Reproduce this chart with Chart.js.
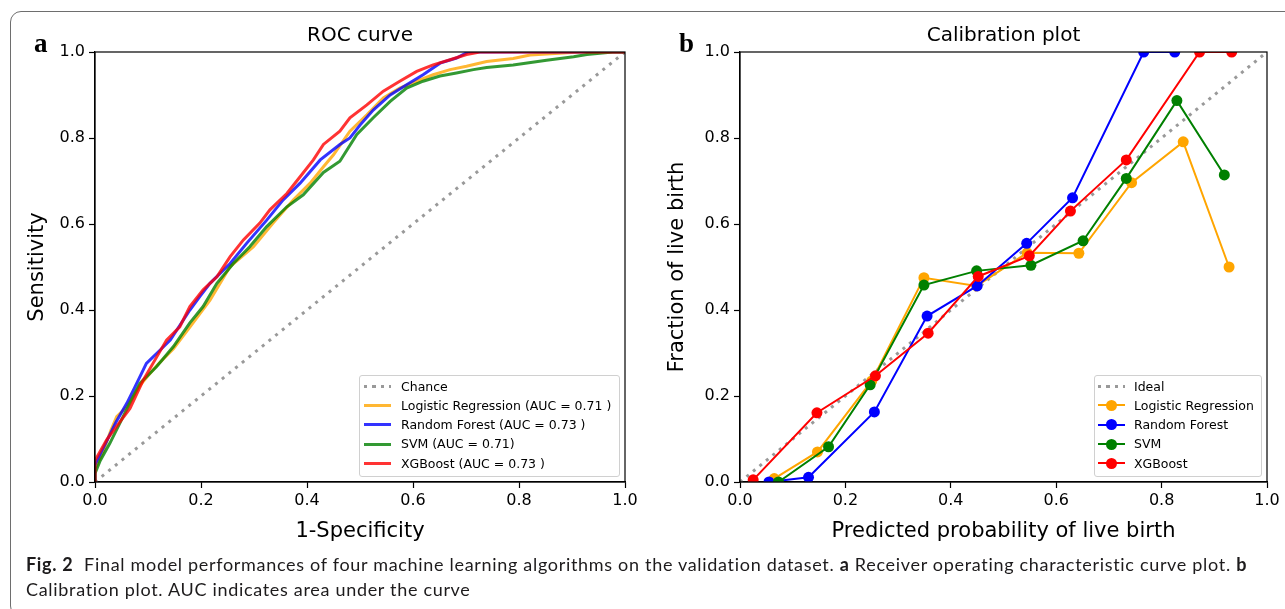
<!DOCTYPE html>
<html lang="en">
<head>
<meta charset="UTF-8">
<title>Fig. 2</title>
<script src="https://cdn.jsdelivr.net/npm/chart.js"></script>
<style>
  body{margin:0; width:1285px; height:609px; overflow:hidden; background:#fff; position:relative; font-family:'DejaVu Sans';}
  #frame{position:absolute; left:10px; top:11px; width:1300px; height:604px; border:1.3px solid #6e6e6e; border-radius:11px;}
  #rocBox{position:absolute; left:0; top:0; width:650px; height:560px;}
  #calBox{position:absolute; left:640px; top:0; width:645px; height:560px;}
  .panel{position:absolute; top:30px; font-family:'Liberation Serif'; font-weight:bold; font-size:27px; line-height:27px;}
  .legend{position:absolute; top:375px; height:97px; padding:0.5px 0 2px 0; border:1px solid #d0d0d0; border-radius:3px; background:rgba(255,255,255,0.8); font-size:12.5px; color:#000;}
  .legend .row{height:19.3px; line-height:19.3px; white-space:nowrap; display:flex; align-items:center;}
  .legend .smp{position:relative; width:27px; height:11px; flex:none;}
  #caption{position:absolute; left:26px; top:551.5px; font-family:Lato; font-size:18px; line-height:25px; color:#1d1b1c; white-space:nowrap;}
</style>
</head>
<body>
<div id="frame"></div>
<div id="rocBox"><canvas id="rocChart"></canvas></div>
<div id="calBox"><canvas id="calChart"></canvas></div>
<div class="panel" style="left:34px;">a</div>
<div class="panel" style="left:679px;">b</div>
<div class="legend" id="rocLegend" style="left:359px; width:259px;"></div>
<div class="legend" id="calLegend" style="left:1094px; width:166px;"></div>
<div id="caption"><span id="cap1"><b>Fig. 2</b>&nbsp; Final model performances of four machine learning algorithms on the validation dataset. <b>a</b> Receiver operating characteristic curve plot. <b>b</b></span><br>Calibration plot. AUC indicates area under the curve</div>
<script>
  const tickValues = [0, 0.2, 0.4, 0.6, 0.8, 1.0];
  const tickLabels = ['0.0', '0.2', '0.4', '0.6', '0.8', '1.0'];

  // ROC curves (1-specificity, sensitivity)
  const chanceX = [0, 1];
  const chanceY = [0, 1];
  const lrFpr = [0, 0, 0.015, 0.03, 0.041, 0.06, 0.085, 0.116, 0.148, 0.179, 0.217, 0.255, 0.299, 0.336, 0.374, 0.406, 0.431, 0.45, 0.481, 0.513, 0.544, 0.575, 0.607, 0.638, 0.67, 0.701, 0.739, 0.789, 0.821, 0.915, 1];
  const lrTpr = [0, 0.03, 0.07, 0.12, 0.152, 0.175, 0.225, 0.27, 0.31, 0.36, 0.423, 0.501, 0.547, 0.602, 0.656, 0.695, 0.733, 0.761, 0.816, 0.854, 0.893, 0.916, 0.932, 0.947, 0.959, 0.967, 0.978, 0.985, 0.993, 1.0, 1];
  const rfFpr = [0, 0, 0.02, 0.04, 0.06, 0.075, 0.097, 0.123, 0.142, 0.179, 0.198, 0.217, 0.255, 0.286, 0.324, 0.355, 0.387, 0.425, 0.462, 0.481, 0.5, 0.525, 0.557, 0.588, 0.619, 0.651, 0.682, 0.704, 1];
  const rfTpr = [0, 0.04, 0.09, 0.14, 0.183, 0.22, 0.276, 0.307, 0.33, 0.4, 0.432, 0.462, 0.508, 0.555, 0.609, 0.656, 0.695, 0.749, 0.785, 0.8, 0.83, 0.865, 0.9, 0.924, 0.947, 0.974, 0.986, 1.0, 1];
  const svmFpr = [0, 0, 0.01, 0.028, 0.053, 0.085, 0.116, 0.148, 0.179, 0.204, 0.23, 0.261, 0.292, 0.324, 0.362, 0.393, 0.431, 0.462, 0.494, 0.525, 0.557, 0.588, 0.619, 0.651, 0.682, 0.714, 0.739, 0.789, 0.852, 0.903, 0.928, 0.977, 1];
  const svmTpr = [0, 0.02, 0.05, 0.09, 0.152, 0.23, 0.268, 0.315, 0.37, 0.408, 0.462, 0.508, 0.547, 0.594, 0.64, 0.668, 0.72, 0.746, 0.808, 0.847, 0.885, 0.916, 0.932, 0.944, 0.951, 0.959, 0.964, 0.97, 0.981, 0.989, 0.994, 1.0, 1];
  const xgbFpr = [0, 0, 0.022, 0.047, 0.066, 0.091, 0.135, 0.16, 0.179, 0.204, 0.23, 0.255, 0.28, 0.311, 0.33, 0.362, 0.387, 0.412, 0.431, 0.462, 0.481, 0.513, 0.544, 0.575, 0.607, 0.638, 0.67, 0.701, 0.726, 1];
  const xgbTpr = [0, 0.05, 0.098, 0.14, 0.171, 0.237, 0.33, 0.361, 0.408, 0.447, 0.477, 0.524, 0.563, 0.602, 0.633, 0.671, 0.71, 0.749, 0.785, 0.816, 0.847, 0.877, 0.909, 0.932, 0.955, 0.97, 0.982, 0.994, 1.0, 1];

  // calibration (mean predicted probability, fraction of positives)
  const idealX = [0, 1];
  const idealY = [0, 1];
  const lrProb = [0.065, 0.147, 0.25, 0.349, 0.449, 0.545, 0.643, 0.743, 0.841, 0.928];
  const lrFrac = [0.008, 0.07, 0.235, 0.475, 0.456, 0.533, 0.532, 0.696, 0.791, 0.5];
  const rfProb = [0.055, 0.13, 0.255, 0.355, 0.45, 0.544, 0.631, 0.766, 0.825];
  const rfFrac = [0.0, 0.011, 0.163, 0.386, 0.456, 0.555, 0.661, 1.0, 1.0];
  const svmProb = [0.073, 0.168, 0.247, 0.349, 0.449, 0.552, 0.651, 0.733, 0.829, 0.919];
  const svmFrac = [0.0, 0.082, 0.226, 0.458, 0.491, 0.504, 0.561, 0.706, 0.887, 0.714];
  const xgbProb = [0.025, 0.146, 0.257, 0.357, 0.452, 0.549, 0.627, 0.733, 0.872, 0.933];
  const xgbFrac = [0.005, 0.161, 0.247, 0.346, 0.478, 0.526, 0.63, 0.749, 1.0, 1.0];

  const rocNames = ['Chance', 'Logistic Regression (AUC = 0.71 )', 'Random Forest (AUC = 0.73 )', 'SVM (AUC = 0.71)', 'XGBoost (AUC = 0.73 )'];
  const calNames = ['Ideal', 'Logistic Regression', 'Random Forest', 'SVM', 'XGBoost'];
  const rocColors = ['rgba(128,128,128,0.8)', 'rgba(255,165,0,0.8)', 'rgba(0,0,255,0.8)', 'rgba(0,128,0,0.8)', 'rgba(255,0,0,0.8)'];
  const calColors = ['rgba(128,128,128,0.8)', '#ffa500', '#0000ff', '#008000', '#ff0000'];

  function toPoints(xs, ys){
    return xs.map((x, i) => ({x: x, y: ys[i]}));
  }

  function makeScale(title, size, isX){
    return {
      type: 'linear', min: 0, max: 1,
      afterBuildTicks: s => { s.ticks = tickValues.map(v => ({value: v})); },
      afterFit: s => { if (isX) s.height = size; else s.width = size; },
      ticks: {callback: (v, i) => tickLabels[i], color: '#000', font: {family: 'DejaVu Sans', size: 16}, padding: isX ? 3 : 4, maxRotation: 0, autoSkip: false},
      grid: {drawOnChartArea: false, drawTicks: true, tickLength: 6, tickColor: '#000', tickWidth: 1.2},
      border: {display: true, color: '#000', width: 1.2},
      title: {display: true, text: title, color: '#000', font: {family: 'DejaVu Sans', size: 21},
              padding: isX ? {top: 0, bottom: 15.4} : {top: 25.4, bottom: 0}}
    };
  }

  // black box round the plot like matplotlib spines
  const spines = {
    id: 'spines',
    afterDraw(chart){
      const a = chart.chartArea, ctx = chart.ctx;
      ctx.save();
      ctx.strokeStyle = '#000';
      ctx.lineWidth = 1.2;
      ctx.strokeRect(a.left, a.top, a.right - a.left, a.bottom - a.top);
      ctx.restore();
    }
  };

  function baseOptions(title, xTitle, yTitle, yWidth, rightPad){
    return {
      animation: false, responsive: true, maintainAspectRatio: false, events: [],
      layout: {padding: {left: 0, right: rightPad, top: 0, bottom: 0}},
      plugins: {
        legend: {display: false},
        tooltip: {enabled: false},
        title: {display: true, text: title, color: '#000', fullSize: false,
                font: {family: 'DejaVu Sans', size: 20, weight: 'normal'}, padding: {top: 24, bottom: 4}}
      },
      scales: {x: makeScale(xTitle, 78, true), y: makeScale(yTitle, yWidth, false)}
    };
  }

  // ROC chart
  const rocX = [chanceX, lrFpr, rfFpr, svmFpr, xgbFpr];
  const rocY = [chanceY, lrTpr, rfTpr, svmTpr, xgbTpr];
  new Chart(document.getElementById('rocChart'), {
    type: 'line',
    data: {
      datasets: rocNames.map((name, i) => ({
        label: name,
        data: toPoints(rocX[i], rocY[i]),
        borderColor: rocColors[i],
        borderWidth: 3,
        borderDash: i === 0 ? [3, 5.6] : [],
        pointRadius: 0,
        tension: 0,
        order: 5 - i
      }))
    },
    options: baseOptions('ROC curve', '1-Specificity', 'Sensitivity', 95, 25),
    plugins: [spines]
  });

  // calibration chart
  const calX = [idealX, lrProb, rfProb, svmProb, xgbProb];
  const calY = [idealY, lrFrac, rfFrac, svmFrac, xgbFrac];
  new Chart(document.getElementById('calChart'), {
    type: 'line',
    data: {
      datasets: calNames.map((name, i) => ({
        label: name,
        data: toPoints(calX[i], calY[i]),
        borderColor: calColors[i],
        backgroundColor: calColors[i],
        borderWidth: i === 0 ? 3 : 2,
        borderDash: i === 0 ? [3, 5.4] : [],
        pointRadius: i === 0 ? 0 : 5.5,
        pointBorderWidth: 0,
        pointBackgroundColor: calColors[i],
        tension: 0,
        clip: 0,
        order: 5 - i
      }))
    },
    options: baseOptions('Calibration plot', 'Predicted probability of live birth', 'Fraction of live birth', 100, 18),
    plugins: [spines]
  });

  // legends, matplotlib style
  function buildLegend(id, names, colors, withMarker, textGap, leftGap){
    const box = document.getElementById(id);
    names.forEach((name, i) => {
      const row = document.createElement('div');
      row.className = 'row';
      const smp = document.createElement('span');
      smp.className = 'smp';
      smp.style.marginLeft = leftGap + 'px';
      smp.style.marginRight = textGap + 'px';
      const ln = document.createElement('span');
      ln.style.cssText = 'position:absolute;left:0;right:0;top:50%;';
      if (i === 0) {
        ln.style.height = '3px';
        ln.style.marginTop = '-1.5px';
        ln.style.background = 'repeating-linear-gradient(to right,' + colors[0] + ' 0 3px, transparent 3px 8.5px)';
      } else {
        const w = withMarker ? 2 : 3;
        ln.style.height = w + 'px';
        ln.style.marginTop = (-w / 2) + 'px';
        ln.style.background = colors[i];
      }
      smp.appendChild(ln);
      if (withMarker && i > 0) {
        const dot = document.createElement('span');
        dot.style.cssText = 'position:absolute;left:8px;top:0;width:11px;height:11px;border-radius:50%;background:' + colors[i] + ';';
        smp.appendChild(dot);
      }
      row.appendChild(smp);
      row.appendChild(document.createTextNode(name));
      box.appendChild(row);
    });
  }
  buildLegend('rocLegend', rocNames, rocColors, false, 10, 4);
  buildLegend('calLegend', calNames, calColors, true, 9, 3);

  // squeeze caption so the first line ends where the printed one does
  const cap1 = document.getElementById('cap1');
  const natural = cap1.getBoundingClientRect().width;
  const chars = cap1.textContent.length;
  document.getElementById('caption').style.letterSpacing = ((1222 - natural) / chars) + 'px';
</script>
</body>
</html>
